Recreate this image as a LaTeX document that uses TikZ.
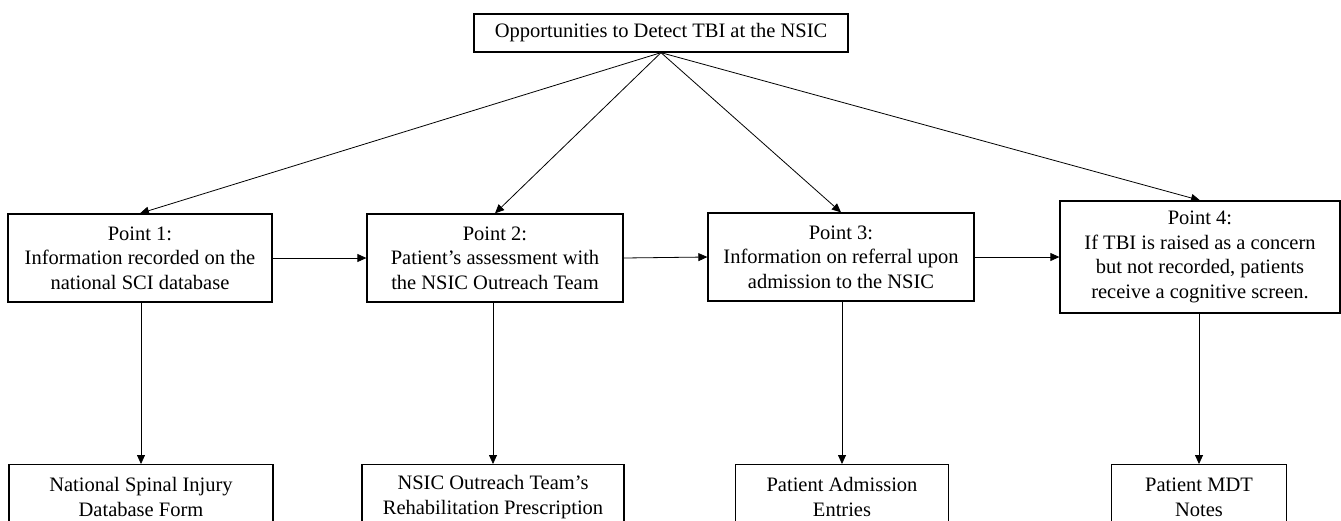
\documentclass[tikz,border=0pt]{standalone}
\usepackage{fontspec}
\setmainfont{Liberation Serif}
\usetikzlibrary{arrows.meta}
\tikzset{
  box/.style={draw=black, line width=1.3pt, inner sep=0pt, align=center,
    font=\fontsize{20.5}{24.5}\selectfont},
  arr/.style={draw=black, line width=0.8pt, -{Triangle[length=9pt,width=8pt]}}
}
\begin{document}
\begin{tikzpicture}[x=1pt,y=-1pt]
\useasboundingbox (0,0) rectangle (1341,520);
\clip (0,0) rectangle (1341,520);
% top
\node[box, minimum width=374pt, minimum height=38pt] (top) at (661,33) {Opportunities to Detect TBI at the NSIC};
% points
\node[box, minimum width=264pt, minimum height=88pt] (p1) at (140,258) {Point 1:\\Information recorded on the\\national SCI database};
\node[box, minimum width=256pt, minimum height=88pt] (p2) at (495,258) {Point 2:\\Patient’s assessment with\\the NSIC Outreach Team};
\node[box, minimum width=266pt, minimum height=88pt] (p3) at (841,257) {Point 3:\\Information on referral upon\\admission to the NSIC};
\node[box, minimum width=280pt, minimum height=112pt] (p4) at (1200,257) {Point 4:\\If TBI is raised as a concern\\but not recorded, patients\\receive a cognitive screen.};
% bottom boxes
\node[box, anchor=north, minimum width=264pt, minimum height=65pt] (b1) at (141,464) {National Spinal Injury\\Database Form};
\node[box, anchor=north, minimum width=262pt, minimum height=65pt] (b2) at (493,464) {NSIC Outreach Team’s\\Rehabilitation Prescription};
\node[box, anchor=north, minimum width=213pt, minimum height=65pt] (b3) at (842,464) {Patient Admission\\Entries};
\node[box, anchor=north, minimum width=175pt, minimum height=65pt] (b4) at (1199,464) {Patient MDT\\Notes};
% arrows from top
\draw[arr] (top.south) -- (p1.north);
\draw[arr] (top.south) -- (p2.north);
\draw[arr] (top.south) -- (p3.north);
\draw[arr] (top.south) -- (p4.north);
% horizontal
\draw[arr] (p1.east) -- (p2.west);
\draw[arr] (p2.east) -- (p3.west);
\draw[arr] (p3.east) -- (p4.west);
% vertical
\draw[arr] (b1.north |- p1.south) -- (b1.north);
\draw[arr] (b2.north |- p2.south) -- (b2.north);
\draw[arr] (b3.north |- p3.south) -- (b3.north);
\draw[arr] (b4.north |- p4.south) -- (b4.north);
\end{tikzpicture}
\end{document}
